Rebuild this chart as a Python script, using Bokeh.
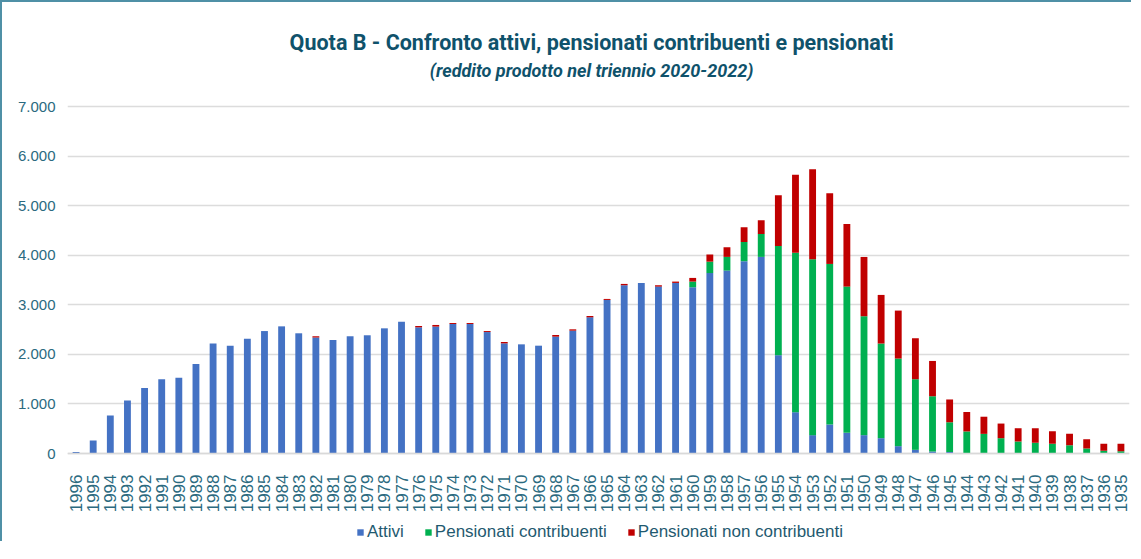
import math
from bokeh.plotting import figure
from bokeh.models import ColumnDataSource, Legend, LegendItem, Label, FixedTicker, Range1d, FactorRange
from bokeh.embed import file_html
from bokeh.resources import INLINE

years = ["1996", "1995", "1994", "1993", "1992", "1991", "1990", "1989", "1988", "1987",
         "1986", "1985", "1984", "1983", "1982", "1981", "1980", "1979", "1978", "1977",
         "1976", "1975", "1974", "1973", "1972", "1971", "1970", "1969", "1968", "1967",
         "1966", "1965", "1964", "1963", "1962", "1961", "1960", "1959", "1958", "1957",
         "1956", "1955", "1954", "1953", "1952", "1951", "1950", "1949", "1948", "1947",
         "1946", "1945", "1944", "1943", "1942", "1941", "1940", "1939", "1938", "1937",
         "1936", "1935"]

attivi = [30, 260, 765, 1070, 1320, 1500, 1530, 1805, 2220, 2175,
          2315, 2470, 2565, 2425, 2340, 2290, 2365, 2385, 2525, 2660,
          2545, 2560, 2613, 2613, 2450, 2222, 2202, 2175, 2357, 2478,
          2747, 3098, 3394, 3441, 3367, 3441, 3354, 3640, 3690, 3879,
          3966, 1983, 833, 370, 585, 417, 370, 309, 148, 74,
          40, 30, 0, 0, 0, 0, 0, 0, 0, 0,
          0, 0]

contribuenti = [0, 0, 0, 0, 0, 0, 0, 0, 0, 0,
                0, 0, 0, 0, 0, 0, 0, 0, 0, 0,
                0, 0, 0, 0, 0, 0, 0, 0, 0, 0,
                0, 0, 0, 0, 0, 0, 114, 230, 276, 390,
                460, 2204, 3219, 3548, 3239, 2950, 2399, 1909, 1767, 1425,
                1115, 600, 445, 396, 309, 242, 215, 195, 168, 101,
                54, 47]

non_contribuenti = [0, 0, 0, 0, 0, 0, 0, 0, 0, 0,
                    0, 0, 0, 0, 25, 0, 0, 0, 0, 0,
                    27, 33, 20, 20, 20, 27, 0, 0, 34, 27,
                    27, 20, 27, 0, 27, 27, 74, 145, 196, 297,
                    278, 1021, 1573, 1815, 1425, 1263, 1196, 981, 968, 826,
                    712, 460, 392, 346, 295, 268, 295, 255, 228, 188,
                    141, 148]

series_names = ["Attivi", "Pensionati contribuenti", "Pensionati non contribuenti"]
series_colors = ["#4472C4", "#00B050", "#C00000"]

ytick_values = [0, 1000, 2000, 3000, 4000, 5000, 6000, 7000]
ytick_labels = ["0", "1.000", "2.000", "3.000", "4.000", "5.000", "6.000", "7.000"]

title_text = "Quota B - Confronto attivi, pensionati contribuenti e pensionati"
subtitle_text = "(reddito prodotto nel triennio 2020-2022)"

TEAL = "#0F526B"
TICK = "#2B6A80"
TITLE_FONT = "Roboto"
SANS = "Liberation Sans"

# layout (pixels in the canvas); the frame fills the canvas height
W, H = 1131, 541
FRAME_LEFT = 65
FRAME_RIGHT_GAP = 4
ZERO_PX = 451      # canvas y of value 0
TOP_TICK_PX = 104  # canvas y of value 7000
PX_PER_UNIT = (ZERO_PX - TOP_TICK_PX) / 7000.0

def y_at(px):
    return (ZERO_PX - px) / PX_PER_UNIT

y_top = y_at(0)
y_bottom = y_at(H)

src = ColumnDataSource(dict(year=years, attivi=attivi, contrib=contribuenti, noncontrib=non_contribuenti))

p = figure(x_range=FactorRange(*years), y_range=Range1d(y_bottom, y_top),
           width=W, height=H, output_backend="svg", toolbar_location=None,
           min_border_left=FRAME_LEFT, min_border_right=FRAME_RIGHT_GAP, min_border_top=0,
           min_border_bottom=0)
p.title.visible = False

renderers = p.vbar_stack(["attivi", "contrib", "noncontrib"], x="year", width=0.4,
                         fill_color=series_colors, line_color=None, source=src)

p.outline_line_color = None
p.background_fill_color = "white"
p.border_fill_color = "white"

p.yaxis.ticker = FixedTicker(ticks=ytick_values)
p.yaxis.major_label_overrides = {v: l for v, l in zip(ytick_values, ytick_labels)}
p.yaxis.axis_line_color = None
p.yaxis.major_tick_line_color = None
p.yaxis.minor_tick_line_color = None
p.yaxis.major_label_standoff = 6
p.yaxis.major_label_text_font = SANS
p.yaxis.major_label_text_font_size = "15px"
p.yaxis.major_label_text_color = TICK

p.xaxis.fixed_location = 0
p.xaxis.major_label_orientation = math.pi / 2
p.xaxis.axis_line_color = "#d9d9d9"
p.xaxis.axis_line_width = 1.5
p.xaxis.major_tick_line_color = None
p.xaxis.minor_tick_line_color = None
p.xaxis.major_label_standoff = 15
p.xaxis.major_label_text_font = SANS
p.xaxis.major_label_text_font_size = "17px"
p.xaxis.major_label_text_color = TICK

p.xgrid.grid_line_color = None
p.ygrid.ticker = FixedTicker(ticks=ytick_values)
p.ygrid.grid_line_color = "#dcdcdc"
p.ygrid.grid_line_width = 1.5

title_x = 30.6   # synthetic categorical coordinate of the title centre
p.add_layout(Label(x=title_x, y=y_at(40), text=title_text,
                   text_align="center", text_baseline="middle", text_font=TITLE_FONT,
                   text_font_size="21.5px", text_font_style="bold", text_color=TEAL))
p.add_layout(Label(x=title_x, y=y_at(68), text=subtitle_text,
                   text_align="center", text_baseline="middle", text_font=TITLE_FONT,
                   text_font_size="18px", text_font_style="bold italic", text_color=TEAL))

legend = Legend(items=[LegendItem(label=n, renderers=[r]) for n, r in zip(series_names, renderers)],
                location=(289, 1), orientation="horizontal",
                glyph_width=8, glyph_height=8, label_standoff=3, spacing=20,
                padding=0, margin=0, border_line_color=None, background_fill_alpha=0,
                label_text_font=SANS, label_text_font_size="17px", label_text_color="#1F5A70",
                label_height=16)
p.add_layout(legend, "center")

p.styles = {"border-left": "2px solid #4F90A6", "border-top": "2px solid #4F90A6"}

open("out.html", "w").write(file_html(p, INLINE))
